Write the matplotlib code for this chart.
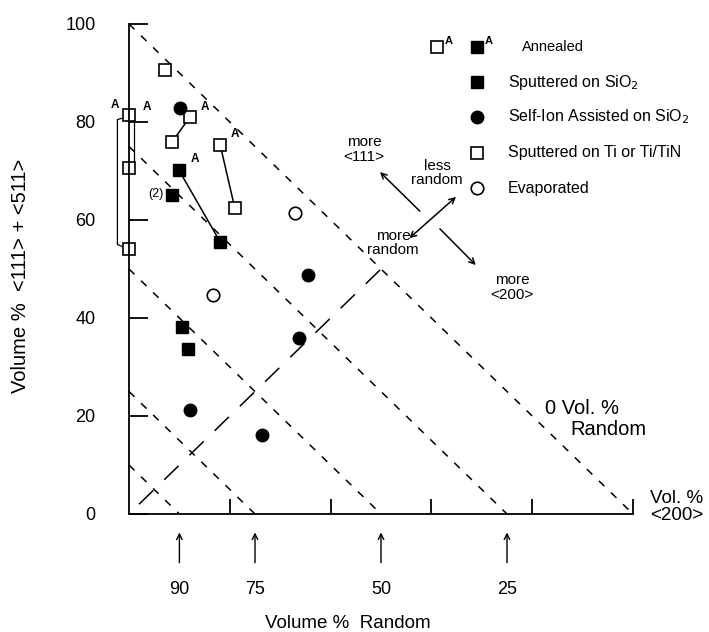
import matplotlib
matplotlib.use('Agg')
import matplotlib.pyplot as plt
import numpy as np

plt.rcParams['font.family'] = ['Liberation Sans', 'DejaVu Sans']

# data (Vol. % <200>, Vol. % <111>+<511>)
sput_sio2_x = [8.5, 9.9, 18.1, 10.5, 11.7]
sput_sio2_y = [65.1, 70.2, 55.5, 38.2, 33.7]
selfion_x = [10.1, 35.5, 33.8, 12.1, 26.4]
selfion_y = [82.9, 48.8, 35.9, 21.2, 16.1]
sput_ti_x = [0, 0, 0, 7.1, 12.1, 8.5, 18.1, 21.0]
sput_ti_y = [81.4, 70.6, 54.1, 90.6, 81.0, 75.9, 75.3, 62.4]
evap_x = [32.9, 16.7]
evap_y = [61.4, 44.7]

# annealed pairs (before -> after)
pairs = [((12.1, 81.0), (8.5, 75.9)),
         ((18.1, 75.3), (21.0, 62.4)),
         ((9.9, 70.2), (18.1, 55.5))]
annealed_labels = [(-2.8, 83.5), (3.5, 83.0), (15.0, 83.0), (21.0, 77.5), (13.0, 72.5)]

random_levels = [90, 75, 50, 25, 0]
yticks = [0, 20, 40, 60, 80, 100]

fig = plt.figure(figsize=(7.09, 6.32), dpi=100)
ax = fig.add_axes([129 / 709, 118 / 632, 504 / 709, 490 / 632])
ax.set_xlim(0, 100)
ax.set_ylim(0, 100)
for s in ['top', 'right']:
    ax.spines[s].set_visible(False)
ax.spines['left'].set_linewidth(1.3)
ax.spines['bottom'].set_linewidth(1.3)

ax.set_yticks(yticks)
ax.set_yticklabels([str(t) for t in yticks], fontsize=13)
ax.tick_params(axis='y', direction='in', length=14, width=1.3, pad=24)
ax.set_xticks([20, 40, 60, 80, 100])
ax.set_xticklabels([])
ax.tick_params(axis='x', direction='in', length=11, width=1.3)

# iso-random lines
for r in random_levels:
    s = 100 - r
    ax.plot([0, s], [s, 0], color='black', lw=1.1, ls=(0, (5, 6)), clip_on=False)
ax.plot([2, 50], [2, 50], color='black', lw=1.1, ls=(0, (13, 10)))

# annealing connections
for (a, b) in pairs:
    ax.plot([a[0], b[0]], [a[1], b[1]], color='black', lw=1.1)
ax.plot([1.0, 1.0], [80, 71.8], color='black', lw=0.9)
ax.plot([-0.6, -2.3, -2.3, -0.6], [81.0, 80.5, 55.0, 54.3], color='black', lw=0.9, clip_on=False)

ms = 9
ax.plot(sput_ti_x, sput_ti_y, 's', ms=ms, mfc='white', mec='black', mew=1.2, ls='none', clip_on=False)
ax.plot(sput_sio2_x, sput_sio2_y, 's', ms=ms, color='black', ls='none')
ax.plot(selfion_x, selfion_y, 'o', ms=ms, color='black', ls='none')
ax.plot(evap_x, evap_y, 'o', ms=ms, mfc='white', mec='black', mew=1.2, ls='none')

for (lx, ly) in annealed_labels:
    ax.text(lx, ly, 'A', fontsize=8.5, fontweight='bold', ha='center', va='center')
ax.text(5.3, 65.3, '(2)', fontsize=9, ha='center', va='center')

# direction arrows
akw = dict(arrowstyle='->', color='black', lw=1.1)
ax.annotate('', xy=(49.4, 70.2), xytext=(58.1, 61.4), arrowprops=akw)
ax.annotate('', xy=(69.2, 50.4), xytext=(61.3, 58.6), arrowprops=akw)
ax.annotate('', xy=(55.2, 55.9), xytext=(65.3, 65.1), arrowprops=dict(arrowstyle='<->', color='black', lw=1.1))
ax.text(46.6, 74.3, 'more\n<111>', fontsize=11, ha='center', va='center', linespacing=1.1)
ax.text(61.1, 69.5, 'less\nrandom', fontsize=11, ha='center', va='center', linespacing=1.0)
ax.text(52.4, 55.3, 'more\nrandom', fontsize=11, ha='center', va='center', linespacing=0.95)
ax.text(76.0, 46.2, 'more\n<200>', fontsize=11, ha='center', va='center', linespacing=1.1)

ax.text(82.6, 21.5, '0 Vol. %', fontsize=14.5, ha='left', va='center')
ax.text(87.6, 17.3, 'Random', fontsize=14.5, ha='left', va='center')
ax.text(103.3, 1.5, 'Vol. %\n<200>', fontsize=13.5, ha='left', va='center', linespacing=1.0)

# random % markers below axis
for r in random_levels[:-1]:
    s = 100 - r
    ax.annotate('', xy=(s, -3.2), xytext=(s, -10.5), xycoords='data',
                arrowprops=dict(arrowstyle='->', color='black', lw=1.0), annotation_clip=False)
    ax.text(s, -15.5, str(r), fontsize=13, ha='center', va='center')
ax.text(43.5, -22.3, 'Volume %  Random', fontsize=13.5, ha='center', va='center')
ax.text(-21.5, 48.5, 'Volume %  <111> + <511>', fontsize=14.5, rotation=90, ha='center', va='center')

# legend
t = ax.transAxes
lx_m = (477 - 129) / 504
lx_t = (508 - 129) / 504
rows = [1 - (py - 24) / 490 for py in [47, 82, 117, 153, 188]]
ax.plot([(437 - 129) / 504], [rows[0]], 's', ms=8, mfc='white', mec='black', mew=1.2, transform=t, clip_on=False)
ax.plot([lx_m], [rows[0]], 's', ms=8, color='black', transform=t, clip_on=False)
ax.text((445 - 129) / 504, rows[0] + 0.012, 'A', fontsize=8, fontweight='bold', transform=t, va='center')
ax.text((485 - 129) / 504, rows[0] + 0.012, 'A', fontsize=8, fontweight='bold', transform=t, va='center')
ax.text((522 - 129) / 504, rows[0], 'Annealed', fontsize=10.5, transform=t, va='center')
ax.plot([lx_m], [rows[1]], 's', ms=9, color='black', transform=t, clip_on=False)
ax.plot([lx_m], [rows[2]], 'o', ms=9, color='black', transform=t, clip_on=False)
ax.plot([lx_m], [rows[3]], 's', ms=9, mfc='white', mec='black', mew=1.2, transform=t, clip_on=False)
ax.plot([lx_m], [rows[4]], 'o', ms=9, mfc='white', mec='black', mew=1.2, transform=t, clip_on=False)
labels = ['Sputtered on SiO$_2$', 'Self-Ion Assisted on SiO$_2$', 'Sputtered on Ti or Ti/TiN', 'Evaporated']
for row, lab in zip(rows[1:], labels):
    ax.text(lx_t, row, lab, fontsize=11.5, transform=t, va='center')

fig.savefig('out.png', dpi=100)
